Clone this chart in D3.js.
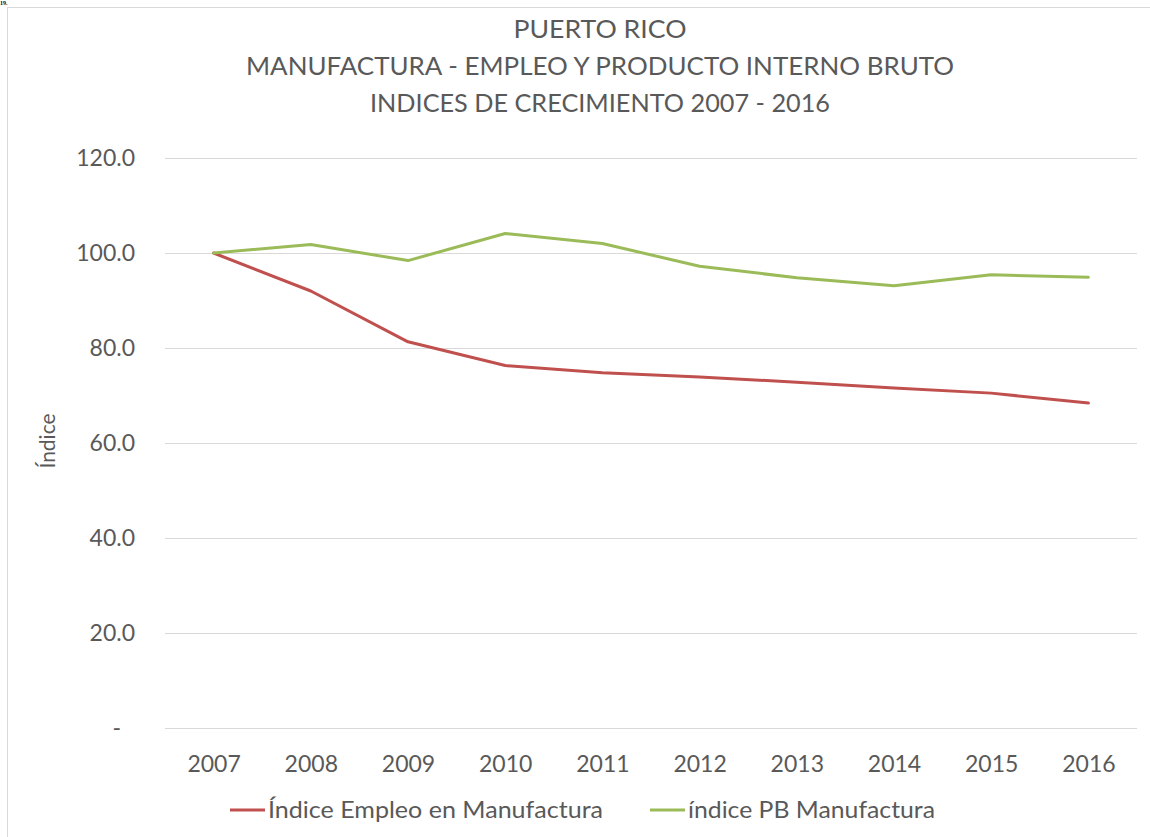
<!DOCTYPE html>
<html>
<head>
<meta charset="utf-8">
<script src="https://cdn.jsdelivr.net/npm/d3@7"></script>
<style>
  html, body { margin: 0; padding: 0; background: #fff; }
  svg { display: block; }
  text { font-family: Lato, "Open Sans", sans-serif; fill: #595959; }
</style>
</head>
<body>
<svg id="chart" width="1150" height="837"></svg>
<script>
// Index values, base 2007 = 100
const years = ["2007", "2008", "2009", "2010", "2011", "2012", "2013", "2014", "2015", "2016"];
const empleoManufactura = [100.0, 92.0, 81.3, 76.3, 74.8, 73.9, 72.8, 71.6, 70.5, 68.4];
const pbManufactura = [100.0, 101.8, 98.4, 104.1, 102.0, 97.2, 94.8, 93.1, 95.4, 94.9];
const yTicks = [0, 20, 40, 60, 80, 100, 120];
const titleLines = [
  "PUERTO RICO",
  "MANUFACTURA - EMPLEO Y PRODUCTO INTERNO BRUTO",
  "INDICES DE CRECIMIENTO 2007 - 2016"
];
const seriesNames = ["Índice Empleo en Manufactura", "índice PB Manufactura"];
const seriesColors = ["#c0504d", "#9bbb59"];

const svg = d3.select("#chart");

// page number fragment above the chart frame
svg.append("text")
  .attr("x", 0).attr("y", 5)
  .style("font-family", "'Liberation Serif', serif")
  .style("font-weight", "bold")
  .style("font-size", "6px")
  .style("fill", "#000")
  .text("19.");

// chart frame
svg.append("rect")
  .attr("x", 7.5).attr("y", 7.5)
  .attr("width", 1160).attr("height", 850)
  .attr("fill", "#fff")
  .attr("stroke", "#d9d9d9");

const plot = { left: 165, right: 1137, top: 158, bottom: 728 };

const x = d3.scalePoint()
  .domain(years)
  .range([plot.left, plot.right])
  .padding(0.5);

const y = d3.scaleLinear()
  .domain([0, 120])
  .range([plot.bottom, plot.top]);

// title, three centred lines
const titleWidths = [173, 708, 460];
svg.append("g")
  .selectAll("text")
  .data(titleLines)
  .join("text")
  .attr("x", 600)
  .attr("y", (d, i) => 38 + i * 37)
  .attr("text-anchor", "middle")
  .attr("textLength", (d, i) => titleWidths[i])
  .attr("lengthAdjust", "spacingAndGlyphs")
  .style("font-size", "25px")
  .text(d => d);

// y axis with gridlines
const yAxis = d3.axisLeft(y)
  .tickValues(yTicks)
  .tickSize(-(plot.right - plot.left))
  .tickPadding(30)
  .tickFormat(d => d === 0 ? "-" : d.toFixed(1));

const gy = svg.append("g")
  .attr("transform", `translate(${plot.left},0)`)
  .call(yAxis);
gy.select(".domain").remove();
gy.selectAll(".tick line").attr("stroke", "#d9d9d9").attr("stroke-width", 1);
gy.selectAll(".tick text")
  .style("font-size", "23px")
  .style("fill", "#595959")
  .attr("dx", d => d === 0 ? -14 : 0);

// x axis
const xAxis = d3.axisBottom(x).tickSize(0).tickPadding(28);
const gx = svg.append("g")
  .attr("transform", `translate(0,${plot.bottom})`)
  .call(xAxis);
gx.select(".domain").remove();
gx.selectAll(".tick text")
  .style("font-size", "23px")
  .style("fill", "#595959");

// y axis title
svg.append("text")
  .attr("transform", `translate(55,441) rotate(-90)`)
  .attr("text-anchor", "middle")
  .style("font-size", "21px")
  .text("Índice");

// series lines
const line = d3.line()
  .x((d, i) => x(years[i]))
  .y(d => y(d));

[empleoManufactura, pbManufactura].forEach((values, k) => {
  svg.append("path")
    .datum(values)
    .attr("fill", "none")
    .attr("stroke", seriesColors[k])
    .attr("stroke-width", 3)
    .attr("stroke-linejoin", "round")
    .attr("stroke-linecap", "round")
    .attr("d", line);
});

// legend
const legendX = [230, 650];
const legendTextWidths = [335, 247];
const legend = svg.append("g");
seriesNames.forEach((name, k) => {
  legend.append("line")
    .attr("x1", legendX[k]).attr("x2", legendX[k] + 35)
    .attr("y1", 810).attr("y2", 810)
    .attr("stroke", seriesColors[k])
    .attr("stroke-width", 3);
  legend.append("text")
    .attr("x", legendX[k] + 38)
    .attr("y", 810)
    .attr("dy", "0.35em")
    .attr("textLength", legendTextWidths[k])
    .attr("lengthAdjust", "spacingAndGlyphs")
    .style("font-size", "23px")
    .text(name);
});
</script>
</body>
</html>
